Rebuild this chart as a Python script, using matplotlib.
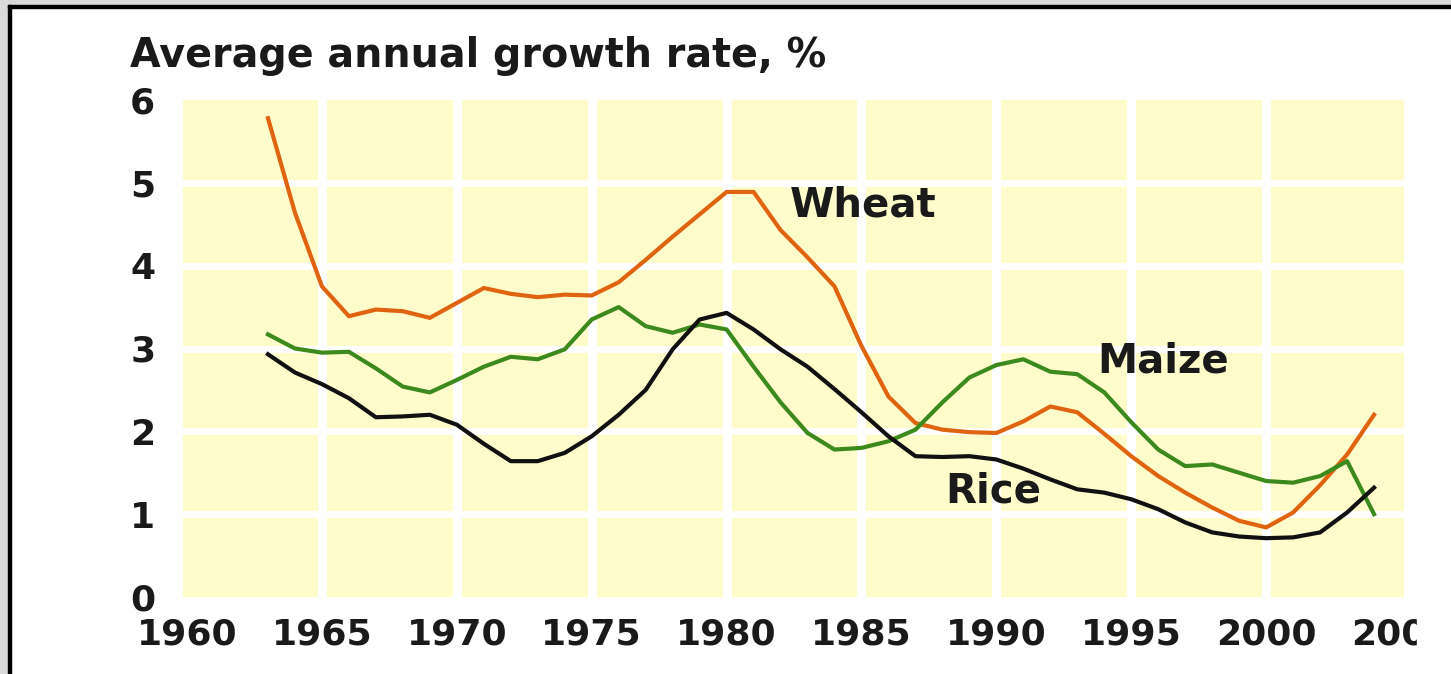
import matplotlib.pyplot as plt
from matplotlib.patches import Rectangle

# Values (average annual growth rate, %)
wheat_years = [1963, 1964, 1965, 1966, 1967, 1968, 1969, 1970, 1971, 1972, 1973, 1974, 1975,
               1976, 1977, 1978, 1979, 1980, 1981, 1982, 1983, 1984, 1985, 1986, 1987, 1988,
               1989, 1990, 1991, 1992, 1993, 1994, 1995, 1996, 1997, 1998, 1999, 2000, 2001,
               2002, 2003, 2004]
wheat = [5.78, 4.64, 3.75, 3.39, 3.47, 3.45, 3.37, 3.55, 3.73, 3.66, 3.62, 3.65, 3.64,
         3.80, 4.07, 4.35, 4.62, 4.89, 4.89, 4.43, 4.10, 3.75, 3.03, 2.42, 2.10, 2.02,
         1.99, 1.98, 2.12, 2.30, 2.23, 1.97, 1.70, 1.46, 1.26, 1.08, 0.92, 0.84, 1.02,
         1.35, 1.72, 2.20]

maize_years = [1963, 1964, 1965, 1966, 1967, 1968, 1969, 1970, 1971, 1972, 1973, 1974, 1975,
               1976, 1977, 1978, 1979, 1980, 1981, 1982, 1983, 1984, 1985, 1986, 1987, 1988,
               1989, 1990, 1991, 1992, 1993, 1994, 1995, 1996, 1997, 1998, 1999, 2000, 2001,
               2002, 2003, 2004]
maize = [3.17, 3.00, 2.95, 2.96, 2.76, 2.54, 2.47, 2.62, 2.78, 2.90, 2.87, 2.99, 3.35,
         3.50, 3.27, 3.19, 3.29, 3.23, 2.78, 2.35, 1.98, 1.78, 1.80, 1.88, 2.02, 2.35,
         2.65, 2.80, 2.87, 2.72, 2.69, 2.47, 2.11, 1.78, 1.58, 1.60, 1.50, 1.40, 1.38,
         1.46, 1.64, 1.00]

rice_years = [1963, 1964, 1965, 1966, 1967, 1968, 1969, 1970, 1971, 1972, 1973, 1974, 1975,
              1976, 1977, 1978, 1979, 1980, 1981, 1982, 1983, 1984, 1985, 1986, 1987, 1988,
              1989, 1990, 1991, 1992, 1993, 1994, 1995, 1996, 1997, 1998, 1999, 2000, 2001,
              2002, 2003, 2004]
rice = [2.93, 2.71, 2.57, 2.40, 2.17, 2.18, 2.20, 2.08, 1.85, 1.64, 1.64, 1.74, 1.94,
        2.20, 2.50, 2.99, 3.35, 3.43, 3.23, 2.99, 2.78, 2.51, 2.23, 1.94, 1.70, 1.69,
        1.70, 1.66, 1.55, 1.42, 1.30, 1.26, 1.18, 1.06, 0.90, 0.78, 0.73, 0.71, 0.72,
        0.78, 1.02, 1.32]

x_ticks = [1960, 1965, 1970, 1975, 1980, 1985, 1990, 1995, 2000, 2005]
y_ticks = [0, 1, 2, 3, 4, 5, 6]

bold = dict(family='DejaVu Sans', weight='bold', color='#1a1a1a')

fig = plt.figure(figsize=(14.51, 6.74), dpi=100)
fig.patch.set_facecolor('white')

# grey frame with a black edge, top and left only
W, H = 1451, 674
fig.patches.append(Rectangle((0, 1 - 5 / H), 1, 5 / H, transform=fig.transFigure,
                             color='#d9d9d9', zorder=0))
fig.patches.append(Rectangle((0, 0), 8 / W, 1, transform=fig.transFigure,
                             color='#d9d9d9', zorder=0))
fig.patches.append(Rectangle((8 / W, 1 - 8 / H), 1, 3 / H, transform=fig.transFigure,
                             color='black', zorder=1))
fig.patches.append(Rectangle((8 / W, 0), 3 / W, 1 - 5 / H, transform=fig.transFigure,
                             color='black', zorder=1))

ax = fig.add_axes([183 / W, 1 - 597 / H, (1404 - 183) / W, (597 - 100) / H])
ax.set_facecolor('#fffccc')
for s in ax.spines.values():
    s.set_visible(False)

ax.set_xlim(1959.85, 2005.11)
ax.set_ylim(0, 6)

# white grid
for x in x_ticks[1:-1]:
    ax.axvline(x, color='white', lw=6.5, zorder=1)
for y in y_ticks[1:-1]:
    ax.axhline(y, color='white', lw=5, zorder=1)

ax.plot(wheat_years, wheat, color='#e0640f', lw=3, zorder=3, solid_joinstyle='round')
ax.plot(maize_years, maize, color='#3d8a1c', lw=3, zorder=3, solid_joinstyle='round')
ax.plot(rice_years, rice, color='#111111', lw=3, zorder=4, solid_joinstyle='round')

ax.text(1982.35, 4.73, 'Wheat', va='center', ha='left', fontsize=29, **bold)
ax.text(1993.73, 2.84, 'Maize', va='center', ha='left', fontsize=29, **bold)
ax.text(1988.1, 1.27, 'Rice', va='center', ha='left', fontsize=29, **bold)

ax.set_xticks(x_ticks)
ax.set_yticks(y_ticks)
ax.set_xticklabels([str(v) for v in x_ticks], fontsize=26, **bold)
ax.set_yticklabels([str(v) for v in y_ticks], fontsize=26, **bold)
ax.tick_params(axis='both', length=0)
ax.tick_params(axis='x', pad=15)
ax.tick_params(axis='y', pad=20)

fig.text(130 / W, 1 - 67 / H, 'Average annual growth rate, %', ha='left', va='baseline',
         fontsize=28.5, **bold)

# the source image is cut off at the right, through the last year label
fig.patches.append(Rectangle((1417 / W, 0), 1, (674 - 600) / H, transform=fig.transFigure,
                             color='white', zorder=5))

fig.savefig('out.png', dpi=100)
